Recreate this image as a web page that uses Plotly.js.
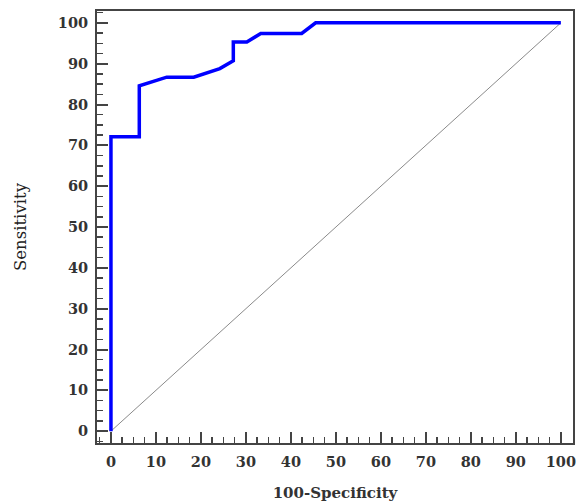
<!DOCTYPE html>
<html>
<head>
<meta charset="utf-8">
<script src="https://cdn.plot.ly/plotly-3.0.1.min.js"></script>
<style>html,body{margin:0;padding:0;background:#fff;}#chart{width:577px;height:504px;}</style>
</head>
<body>
<div id="chart"></div>
<script>
var specComp = [0, 0, 6.3, 6.3, 12.4, 18.4, 24.2, 27.2, 27.2, 30.2, 33.3, 42.4, 45.5, 100];
var sensitivity = [0, 72.1, 72.1, 84.6, 86.7, 86.7, 88.8, 90.7, 95.3, 95.3, 97.4, 97.4, 100, 100];
var diagX = [0, 100];
var diagY = [0, 100];
var tickVals = [0, 10, 20, 30, 40, 50, 60, 70, 80, 90, 100];

var serif = "DejaVu Serif, serif";
var traces = [
  {x: diagX, y: diagY, mode: 'lines', line: {color: '#8a8a8a', width: 1}, hoverinfo: 'skip'},
  {x: specComp, y: sensitivity, mode: 'lines', line: {color: '#0000ff', width: 3.5}}
];
var axisCommon = {
  showgrid: false, zeroline: false, showline: true, linecolor: '#444', linewidth: 2, mirror: true,
  ticks: 'inside', ticklen: 11, tickwidth: 2, tickcolor: '#444',
  tickvals: tickVals,
  tickfont: {family: serif, size: 14.5, color: '#333', weight: 'bold'},
  minor: {dtick: 2.5, ticks: 'inside', ticklen: 6, tickwidth: 1.5, tickcolor: '#444'}
};
var layout = {
  width: 577, height: 504,
  margin: {l: 97, r: 4, t: 11, b: 61},
  showlegend: false,
  paper_bgcolor: '#fff', plot_bgcolor: '#fff',
  xaxis: Object.assign({}, axisCommon, {
    range: [-3.1, 102.7],
    ticklabelstandoff: 5,
    title: {text: '100-Specificity', font: {family: serif, size: 15, color: '#333', weight: 'bold'}, standoff: 18}
  }),
  yaxis: Object.assign({}, axisCommon, {
    range: [-2.9, 102.9],
    ticklabelstandoff: 4,
    title: {text: 'Sensitivity', font: {family: serif, size: 16.5, color: '#222'}, standoff: 27}
  })
};
Plotly.newPlot('chart', traces, layout, {displayModeBar: false, staticPlot: true});
</script>
</body>
</html>
